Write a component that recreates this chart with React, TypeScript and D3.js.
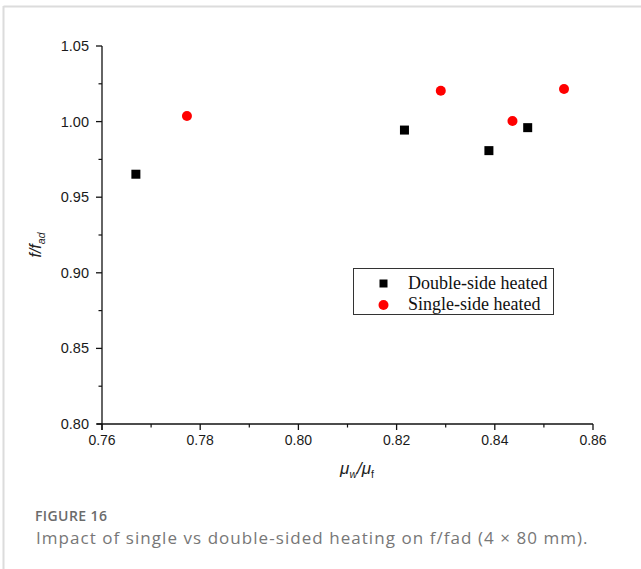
import React, { useEffect, useRef } from "react";
import * as d3 from "d3";

const doubleX = [0.7669, 0.8216, 0.8388, 0.8467];
const doubleY = [0.9652, 0.9944, 0.9808, 0.996];
const singleX = [0.7773, 0.829, 0.8436, 0.8541];
const singleY = [1.0037, 1.0204, 1.0004, 1.0216];
const xTicks = [0.76, 0.78, 0.8, 0.82, 0.84, 0.86];
const yTicks = [0.8, 0.85, 0.9, 0.95, 1.0, 1.05];
const legendLabels = ["Double-side heated", "Single-side heated"];

const W = 641, H = 569;
const L = 102, R = 593, T = 46, B = 424;

export default function App() {
  const ref = useRef<SVGSVGElement>(null);
  useEffect(() => {
    const svg = d3.select(ref.current);
    svg.selectAll("*").remove();
    const x = d3.scaleLinear().domain([0.76, 0.86]).range([L, R]);
    const y = d3.scaleLinear().domain([0.8, 1.05]).range([B, T]);

    // frame
    svg.append("line").attr("x1", 3.5).attr("x2", W).attr("y1", 6.5).attr("y2", 6.5).attr("stroke", "#dcdcdc").attr("stroke-width", 2);
    svg.append("line").attr("x1", 3.5).attr("x2", 3.5).attr("y1", 6).attr("y2", H).attr("stroke", "#dcdcdc").attr("stroke-width", 2);

    const font = "'Liberation Sans', Arial, sans-serif";
    const xMinor = d3.range(0.77, 0.86, 0.02);
    const yMinor = d3.range(0.825, 1.05, 0.05);

    // x axis
    const gx = svg.append("g").attr("transform", `translate(0,${B})`);
    gx.append("line").attr("x1", L - 5).attr("x2", R).attr("stroke", "#111").attr("stroke-width", 1.3);
    xTicks.forEach((t) => {
      gx.append("line").attr("x1", x(t)).attr("x2", x(t)).attr("y1", 0).attr("y2", 6).attr("stroke", "#111").attr("stroke-width", 1.3);
      gx.append("text").attr("x", x(t)).attr("y", 21).attr("text-anchor", "middle").attr("font-family", font).attr("font-size", 14).attr("fill", "#1a1a1a").text(t.toFixed(2));
    });
    xMinor.forEach((t) => {
      gx.append("line").attr("x1", x(t)).attr("x2", x(t)).attr("y1", 0).attr("y2", 3.5).attr("stroke", "#111").attr("stroke-width", 1.2);
    });

    // y axis
    const gy = svg.append("g").attr("transform", `translate(${L},0)`);
    gy.append("line").attr("y1", T).attr("y2", B + 6).attr("stroke", "#111").attr("stroke-width", 1.3);
    yTicks.forEach((t) => {
      gy.append("line").attr("x1", -6).attr("x2", 0).attr("y1", y(t)).attr("y2", y(t)).attr("stroke", "#111").attr("stroke-width", 1.3);
      gy.append("text").attr("x", -13).attr("y", y(t) + 5).attr("text-anchor", "end").attr("font-family", font).attr("font-size", 14.5).attr("fill", "#1a1a1a").text(t.toFixed(2));
    });
    yMinor.forEach((t) => {
      gy.append("line").attr("x1", -3.5).attr("x2", 0).attr("y1", y(t)).attr("y2", y(t)).attr("stroke", "#111").attr("stroke-width", 1.2);
    });

    // axis titles
    const xt = svg.append("text").attr("x", 357).attr("y", 474).attr("text-anchor", "middle").attr("font-family", font).attr("font-size", 17).attr("font-style", "italic").attr("fill", "#222");
    xt.append("tspan").text("μ");
    xt.append("tspan").attr("font-size", 10.5).attr("dy", 4).text("w");
    xt.append("tspan").attr("dy", -4).text("/μ");
    xt.append("tspan").attr("font-size", 10.5).attr("dy", 4).attr("font-style", "normal").text("f");

    const yt = svg.append("text").attr("transform", `translate(41,245) rotate(-90)`).attr("text-anchor", "middle").attr("font-family", font).attr("font-size", 16).attr("font-style", "italic").attr("fill", "#222");
    yt.append("tspan").text("f/f");
    yt.append("tspan").attr("font-size", 10.5).attr("dy", 4).text("ad");

    // points
    doubleX.forEach((v, i) => {
      svg.append("rect").attr("x", x(v) - 4.5).attr("y", y(doubleY[i]) - 4.5).attr("width", 9).attr("height", 9).attr("fill", "#000");
    });
    singleX.forEach((v, i) => {
      svg.append("circle").attr("cx", x(v)).attr("cy", y(singleY[i])).attr("r", 5).attr("fill", "#ff0000");
    });

    // legend
    const lg = svg.append("g");
    lg.append("rect").attr("x", 353.5).attr("y", 268.5).attr("width", 200).attr("height", 46).attr("fill", "#fff").attr("stroke", "#333").attr("stroke-width", 1);
    lg.append("rect").attr("x", 379.5).attr("y", 279.5).attr("width", 8).attr("height", 8).attr("fill", "#000");
    lg.append("circle").attr("cx", 383.5).attr("cy", 305).attr("r", 5).attr("fill", "#ff0000");
    const serif = "'Liberation Serif', 'Times New Roman', serif";
    lg.append("text").attr("x", 408).attr("y", 289).attr("font-family", serif).attr("font-size", 18).attr("fill", "#111").text(legendLabels[0]);
    lg.append("text").attr("x", 408).attr("y", 310).attr("font-family", serif).attr("font-size", 18).attr("fill", "#111").text(legendLabels[1]);

    // caption
    const cap = "'Open Sans', 'Noto Sans', sans-serif";
    svg.append("text").attr("x", 35).attr("y", 521).attr("font-family", cap).attr("font-size", 14).attr("font-weight", 600).attr("letter-spacing", 0.4).attr("fill", "#6b6b6b").text("FIGURE 16");
    svg.append("text").attr("x", 36).attr("y", 544).attr("font-family", cap).attr("font-size", 17).attr("letter-spacing", 1.05).attr("fill", "#777").text("Impact of single vs double-sided heating on f/fad (4 × 80 mm).");
  }, []);
  return (
    <svg ref={ref} width={W} height={H} style={{ position: "absolute", left: 0, top: 0, background: "#fff" }} />
  );
}
